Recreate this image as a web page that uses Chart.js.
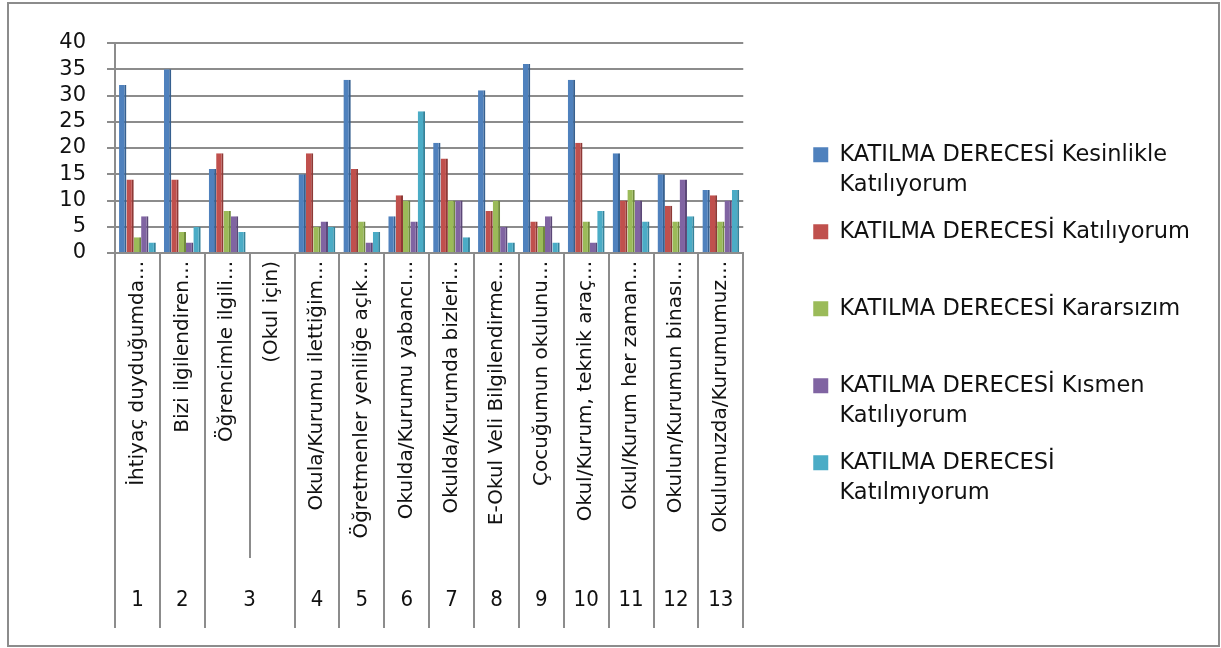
<!DOCTYPE html>
<html>
<head>
<meta charset="utf-8">
<script src="https://cdn.jsdelivr.net/npm/chart.js@4.4.1/dist/chart.umd.min.js"></script>
<style>
  html, body { margin: 0; padding: 0; background: #ffffff; }
  #frame { position: absolute; left: 7px; top: 2px; width: 1213px; height: 645px; box-sizing: border-box; border: 2px solid #8c8c8c; }
  #c { position: absolute; left: 0; top: 0; }
</style>
</head>
<body>
<div id="frame"></div>
<canvas id="c" width="1221" height="648"></canvas>
<script>
// ---- Data ----
const categories = [
  'İhtiyaç duyduğumda...',
  'Bizi ilgilendiren...',
  'Öğrencimle ilgili...',
  '(Okul için)',
  'Okula/Kurumu ilettiğim...',
  'Öğretmenler yeniliğe açık...',
  'Okulda/Kurumu yabancı...',
  'Okulda/Kurumda bizleri...',
  'E-Okul Veli Bilgilendirme...',
  'Çocuğumun okulunu...',
  'Okul/Kurum, teknik araç...',
  'Okul/Kurum her zaman...',
  'Okulun/Kurumun binası...',
  'Okulumuzda/Kurumumuz...'
];
const groupLabels = ['1','2','3','4','5','6','7','8','9','10','11','12','13'];
const groupSpans  = [1,1,2,1,1,1,1,1,1,1,1,1,1];

const seriesNames = [
  'KATILMA DERECESİ Kesinlikle Katılıyorum',
  'KATILMA DERECESİ Katılıyorum',
  'KATILMA DERECESİ Kararsızım',
  'KATILMA DERECESİ Kısmen Katılıyorum',
  'KATILMA DERECESİ Katılmıyorum'
];
const legendLines = [
  ['KATILMA DERECESİ Kesinlikle', 'Katılıyorum'],
  ['KATILMA DERECESİ Katılıyorum', ''],
  ['KATILMA DERECESİ Kararsızım', ''],
  ['KATILMA DERECESİ Kısmen', 'Katılıyorum'],
  ['KATILMA DERECESİ', 'Katılmıyorum']
];

const kesinlikleKatiliyorum = [32, 35, 16, null, 15, 33, 7, 21, 31, 36, 33, 19, 15, 12];
const katiliyorum           = [14, 14, 19, null, 19, 16, 11, 18, 8, 6, 21, 10, 9, 11];
const kararsizim            = [3, 4, 8, null, 5, 6, 10, 10, 10, 5, 6, 12, 6, 6];
const kismenKatiliyorum     = [7, 2, 7, null, 6, 2, 6, 10, 5, 7, 2, 10, 14, 10];
const katilmiyorum          = [2, 5, 4, null, 5, 4, 27, 3, 2, 2, 8, 6, 7, 12];

const yMin = 0, yMax = 40, yStep = 5;

// ---- Styles ----
const fillColors = ['#4F81BD', '#C0504D', '#9BBB59', '#8064A2', '#4BACC6'];
const sideColors = ['#36608F', '#8E3936', '#6F8A3C', '#5B4777', '#34829A'];
const axisGray = '#8c8c8c';
const FONT = "'DejaVu Sans', 'Liberation Sans', sans-serif";

const seriesValues = [kesinlikleKatiliyorum, katiliyorum, kararsizim, kismenKatiliyorum, katilmiyorum];

const groupAxisPlugin = {
  id: 'groupAxis',
  afterDraw(chart) {
    const xs = chart.scales.x;
    const ctx = chart.ctx;
    const n = categories.length;
    const step = xs.getPixelForValue(1) - xs.getPixelForValue(0);
    const edge = i => xs.getPixelForValue(i) - step / 2;
    const top = xs.top;
    const groupEdges = new Set([0]);
    let idx = 0;
    groupSpans.forEach(s => { idx += s; groupEdges.add(idx); });
    ctx.save();
    ctx.strokeStyle = axisGray;
    ctx.lineWidth = 2;
    for (let i = 0; i <= n; i++) {
      const px = Math.round(edge(i));
      const len = groupEdges.has(i) ? 375 : 305;
      ctx.beginPath();
      ctx.moveTo(px, top);
      ctx.lineTo(px, top + len);
      ctx.stroke();
    }
    ctx.font = "22px 'Liberation Sans Narrow', 'DejaVu Sans Condensed', 'DejaVu Sans', sans-serif";
    ctx.fillStyle = '#111';
    ctx.textAlign = 'center';
    ctx.textBaseline = 'middle';
    idx = 0;
    groupLabels.forEach((g, k) => {
      const span = groupSpans[k];
      const cx = (edge(idx) + edge(idx + span)) / 2;
      ctx.fillText(g, cx, top + 347);
      idx += span;
    });
    ctx.restore();
  }
};

Chart.defaults.color = '#111';

new Chart(document.getElementById('c'), {
  type: 'bar',
  data: {
    labels: categories,
    datasets: seriesNames.map((name, i) => ({
      label: name,
      data: seriesValues[i],
      backgroundColor: fillColors[i],
      borderColor: sideColors[i],
      borderWidth: { top: 0, left: 0, bottom: 0, right: 2 },
      borderSkipped: false,
      categoryPercentage: 0.82,
      barPercentage: 1.0,
      xAxisID: 'x',
      yAxisID: 'y'
    }))
  },
  options: {
    responsive: false,
    animation: false,
    devicePixelRatio: 1,
    layout: { padding: { top: 43, right: 21, bottom: 36, left: 0 } },
    scales: {
      x: {
        grid: { display: false, drawTicks: false },
        border: { color: axisGray, width: 2 },
        ticks: {
          autoSkip: false,
          minRotation: 90,
          maxRotation: 90,
          padding: 8,
          color: '#111',
          font: { family: FONT, size: 20 }
        },
        afterFit(s) { s.height = 359; }
      },
      y: {
        min: yMin,
        max: yMax,
        ticks: { stepSize: yStep, padding: 21, color: '#111', font: { family: FONT, size: 21, lineHeight: 1 } },
        grid: { color: axisGray, lineWidth: 2, tickLength: 8, drawTicks: true },
        border: { color: axisGray, width: 2 },
        afterFit(s) { s.width = 115; }
      },
      gap: {
        position: 'right',
        display: true,
        grid: { display: false, drawTicks: false },
        border: { display: false },
        ticks: { display: false },
        afterFit(s) { s.width = 53; }
      }
    },
    plugins: {
      tooltip: { enabled: false },
      legend: {
        position: 'right',
        align: 'center',
        maxWidth: 600,
        labels: {
          boxWidth: 15,
          boxHeight: 15,
          padding: 17,
          color: '#111',
          font: { family: FONT, size: 22.5, lineHeight: 30 / 22.5 },
          generateLabels(chart) {
            const items = Chart.defaults.plugins.legend.labels.generateLabels(chart);
            items.forEach((it, i) => {
              it.text = legendLines[i];
              it.lineWidth = 0;
              it.strokeStyle = it.fillStyle;
            });
            return items;
          }
        }
      }
    }
  },
  plugins: [groupAxisPlugin]
});
</script>
</body>
</html>
